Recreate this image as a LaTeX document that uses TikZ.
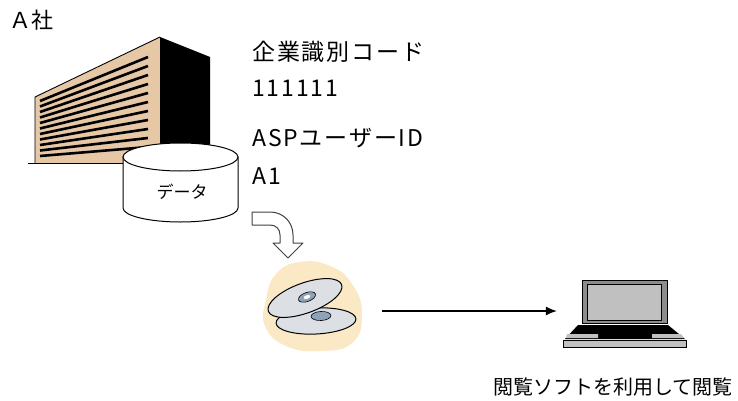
\documentclass[tikz,border=0pt]{standalone}
\usepackage{fontspec}
\setmainfont{Noto Sans CJK JP}
\newfontfamily\widejp[LetterSpace=8]{Noto Sans CJK JP}
\usetikzlibrary{positioning, arrows.meta, calc}
\definecolor{wallTan}{HTML}{E6C7A6}
\definecolor{blobTan}{HTML}{FBE8C4}
\definecolor{discGrey}{HTML}{DCE0E4}
\definecolor{hubBlue}{HTML}{8FA3B8}
\definecolor{screenGrey}{HTML}{C0C0C0}
\definecolor{caseGrey}{HTML}{8C8C8C}

\begin{document}
\begin{tikzpicture}[x=1pt, y=-1pt,
        info/.style={anchor=west, inner sep=0pt, font=\widejp\fontsize{23}{23}\selectfont},
        caption/.style={anchor=west, inner sep=0pt, font=\fontsize{20}{20}\selectfont},
        stripe/.style={line width=2.6pt},
        outline/.style={draw=black, line width=1pt},
        arrow/.style={-{Latex[length=11pt, width=9pt]}, line width=1.1pt}
      ]
      \useasboundingbox (0,0) rectangle (738,401);

      % company building
      \node[info, font=\fontsize{22}{22}\selectfont] (company) at (9,20) {Ａ社};
      \fill[wallTan] (35,97) -- (160,37) -- (160,163) -- (35,163) -- cycle;
      \draw[line width=0.9pt] (35,163) -- (35,97) -- (160,37);
      \draw[line width=0.9pt] (28,163) -- (160,163);
      \foreach \i in {0,...,10}
        \draw[stripe] (40,{101+5.5*\i}) -- (148,{57+9*\i});
      \fill[black] (160,37) -- (210,57) -- (210,165) -- (160,165) -- cycle;

      % data store
      \path[outline, fill=white] (123,157) -- (123,208)
        arc[start angle=180, end angle=0, x radius=57.5, y radius=14] -- (238,157) -- cycle;
      \draw[outline, fill=white] (180.5,157) ellipse[x radius=57.5, y radius=14];
      \node[inner sep=0pt, font=\fontsize{17}{17}\selectfont] (data) at (182,192) {データ};

      \node[info] (codeLabel) at (252,52) {企業識別コード};
      \node[info] (codeValue) at (252,88) {111111};
      \node[info] (userLabel) at (252,138) {ASPユーザーID};
      \node[info] (userValue) at (252,176) {A1};

      % bent block arrow
      \draw[draw=black!75, fill=white, line width=1pt, line join=round]
        (252,212) -- (270,212) .. controls (283,212) and (293,222) .. (293,235)
        -- (293,243) -- (303,243) -- (288,258) -- (273,243) -- (280,243) -- (280,235)
        .. controls (280,229) and (276,225) .. (270,225) -- (252,225) -- cycle;

      % discs
      \fill[blobTan] plot[smooth cycle, tension=0.8] coordinates {(266,300) (276,274) (300,262)
        (330,266) (352,284) (362,314) (352,343) (320,351) (286,346) (265,326)};
      \draw[line width=1pt, fill=discGrey, rotate around={3:(316,321)}]
        (316,321) ellipse[x radius=40, y radius=13];
      \draw[line width=0.6pt, fill=hubBlue, rotate around={3:(321,316)}]
        (321,316) ellipse[x radius=10, y radius=4.5];
      \draw[line width=1pt, fill=discGrey, rotate around={20:(305,298)}]
        (305,298) ellipse[x radius=39, y radius=15];
      \draw[line width=0.6pt, fill=hubBlue, rotate around={20:(307,297)}]
        (307,297) ellipse[x radius=9, y radius=4.5];
      \fill[white, rotate around={20:(307,297)}] (307,297) ellipse[x radius=3.5, y radius=1.8];
      \node[minimum width=110pt, minimum height=60pt, inner sep=0pt] (disc) at (317,311) {};

      % laptop
      \draw[line width=1pt, fill=caseGrey] (582,280) rectangle (667,323);
      \draw[line width=1pt, fill=screenGrey] (587,284) rectangle (661,320);
      \fill[black] (578,325) -- (668,325) -- (685,339) -- (565,339) -- cycle;
      \fill[screenGrey] (567,334) -- (598,334) -- (598,338) -- (566,338) -- cycle;
      \fill[screenGrey] (652,334) -- (681,334) -- (684,338) -- (652,338) -- cycle;
      \draw[line width=1pt, fill=screenGrey] (563,340) rectangle (686,347);
      \node[minimum width=133pt, minimum height=70pt, inner sep=0pt] (laptop) at (623.5,311) {};

      \draw[arrow, shorten <=10pt] (disc.east) -- (laptop.west);
      \node[caption] (viewer) at (493,387) {閲覧ソフトを利用して閲覧};
    \end{tikzpicture}
\end{document}
